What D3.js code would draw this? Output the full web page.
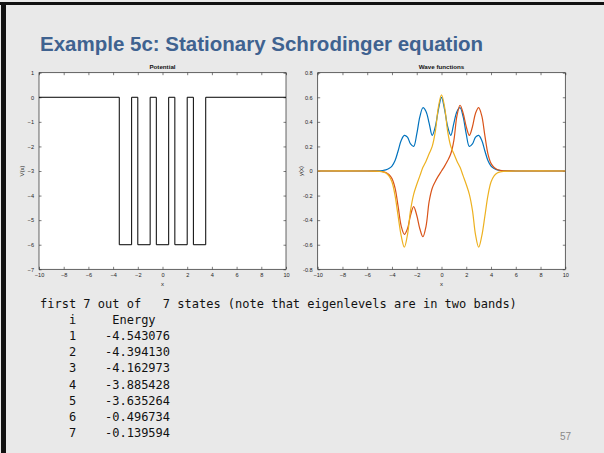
<!DOCTYPE html>
<html><head><meta charset="utf-8">
<script src="https://cdn.jsdelivr.net/npm/d3@7"></script>
<style>
html,body{margin:0;padding:0;background:#e9e9e9;}
svg{display:block;}
</style></head>
<body>
<script>
// ---------- DATA ----------
const titleText = "Example 5c: Stationary Schrodinger equation";
const potTitle = "Potential";
const waveTitle = "Wave functions";

// Potential: step breakpoints (x) and level V(x) starting at each breakpoint
const potX = [-10, -3.5, -2.5, -2, -1, -0.5, 0.5, 1, 2, 2.5, 3.5, 10];
const potV = [0, -6, 0, -6, 0, -6, 0, -6, 0, -6, 0, 0];

const xTicks = [-10, -8, -6, -4, -2, 0, 2, 4, 6, 8, 10];
const potYTicks = [-7, -6, -5, -4, -3, -2, -1, 0, 1];
const waveYTicks = [-0.8, -0.6, -0.4, -0.2, 0, 0.2, 0.4, 0.6, 0.8];

// Wave functions sampled along x
const waveX = [-10, -6, -5.5, -5, -4.75, -4.5, -4.25, -4, -3.75, -3.5, -3.25, -3, -2.75, -2.5, -2.25, -2, -1.75, -1.5, -1.25, -1, -0.75, -0.5, -0.25,
  0, 0.25, 0.5, 0.75, 1, 1.25, 1.5, 1.75, 2, 2.25, 2.5, 2.75, 3, 3.25, 3.5, 3.75, 4, 4.25, 4.5, 4.75, 5, 5.5, 6, 10];
const psi1 = [0, 0, 0.0005, 0.002, 0.004, 0.009, 0.02, 0.04, 0.085, 0.165, 0.25, 0.29, 0.275, 0.22, 0.2, 0.3, 0.44, 0.515, 0.485, 0.39, 0.29, 0.36, 0.5,
  0.6, 0.5, 0.36, 0.29, 0.39, 0.485, 0.515, 0.44, 0.3, 0.2, 0.22, 0.275, 0.29, 0.25, 0.165, 0.085, 0.04, 0.02, 0.009, 0.004, 0.002, 0.0005, 0, 0];
const psi2 = [0, 0, -0.0005, -0.002, -0.005, -0.012, -0.028, -0.062, -0.14, -0.29, -0.45, -0.515, -0.47, -0.36, -0.29, -0.36, -0.47, -0.535, -0.45, -0.25, -0.14, -0.085, -0.04,
  0, 0.04, 0.085, 0.14, 0.25, 0.45, 0.535, 0.47, 0.36, 0.29, 0.36, 0.47, 0.515, 0.45, 0.29, 0.14, 0.062, 0.028, 0.012, 0.005, 0.002, 0.0005, 0, 0];
const psi3 = [0, 0, -0.001, -0.003, -0.007, -0.017, -0.04, -0.09, -0.2, -0.37, -0.53, -0.62, -0.52, -0.32, -0.19, -0.11, -0.04, 0.03, 0.08, 0.14, 0.2, 0.32, 0.52,
  0.62, 0.52, 0.32, 0.2, 0.14, 0.08, 0.03, -0.04, -0.11, -0.19, -0.32, -0.52, -0.62, -0.53, -0.37, -0.2, -0.09, -0.04, -0.017, -0.007, -0.003, -0.001, 0, 0];
const waveColors = ["#0072BD", "#D95319", "#EDB120"];

// Console output
const headerLine = "first 7 out of   7 states (note that eigenlevels are in two bands)";
const stateIdx = [1, 2, 3, 4, 5, 6, 7];
const energies = ["-4.543076", "-4.394130", "-4.162973", "-3.885428", "-3.635264", "-0.496734", "-0.139594"];
const slideNo = "57";

// ---------- DRAW ----------
const W = 604, H = 453;
const svg = d3.select("body").append("svg").attr("width", W).attr("height", H);
svg.append("rect").attr("width", W).attr("height", H).attr("fill", "#e9e9e9");
// slide frame
svg.append("rect").attr("x", 0).attr("y", 2).attr("width", W).attr("height", 3).attr("fill", "#111");
svg.append("rect").attr("x", 1).attr("y", 2).attr("width", 5).attr("height", H).attr("fill", "#111");

svg.append("text").attr("x", 40).attr("y", 50.5)
  .attr("font-family", "Liberation Sans, Arial, sans-serif").attr("font-size", 20.5)
  .attr("font-weight", "bold").attr("fill", "#3f6290").text(titleText);

const axisColor = "#262626";
const tickFont = "Liberation Sans, Arial, sans-serif";

function drawPanel(box, xDomain, yDomain, yTicks, yFmt, title, ylab) {
  const x = d3.scaleLinear().domain(xDomain).range([box.x0, box.x1]);
  const y = d3.scaleLinear().domain(yDomain).range([box.y1, box.y0]);
  const g = svg.append("g");
  g.append("rect").attr("x", box.x0).attr("y", box.y0).attr("width", box.x1 - box.x0).attr("height", box.y1 - box.y0).attr("fill", "#fff");
  const tl = 2.5;
  const bottom = g.append("g").attr("transform", `translate(0,${box.y1})`)
    .call(d3.axisBottom(x).tickValues(xTicks).tickSizeInner(-tl).tickSizeOuter(0).tickPadding(4).tickFormat(d3.format("d")));
  const top = g.append("g").attr("transform", `translate(0,${box.y0})`)
    .call(d3.axisTop(x).tickValues(xTicks).tickSizeInner(-tl).tickSizeOuter(0).tickFormat(""));
  const left = g.append("g").attr("transform", `translate(${box.x0},0)`)
    .call(d3.axisLeft(y).tickValues(yTicks).tickSizeInner(-tl).tickSizeOuter(0).tickPadding(5).tickFormat(yFmt));
  const right = g.append("g").attr("transform", `translate(${box.x1},0)`)
    .call(d3.axisRight(y).tickValues(yTicks).tickSizeInner(-tl).tickSizeOuter(0).tickFormat(""));
  [bottom, top, left, right].forEach(a => {
    a.select(".domain").remove();
    a.selectAll("line").attr("stroke", axisColor).attr("stroke-width", 0.6);
    a.selectAll("text").attr("font-family", tickFont).attr("font-size", 5.6).attr("fill", axisColor);
  });
  g.append("rect").attr("x", box.x0).attr("y", box.y0).attr("width", box.x1 - box.x0).attr("height", box.y1 - box.y0)
    .attr("fill", "none").attr("stroke", axisColor).attr("stroke-width", 0.7);
  g.append("text").attr("x", (box.x0 + box.x1) / 2).attr("y", box.y0 - 3.5).attr("text-anchor", "middle")
    .attr("font-family", tickFont).attr("font-size", 6.2).attr("font-weight", "bold").attr("fill", "#111").text(title);
  g.append("text").attr("x", (box.x0 + box.x1) / 2).attr("y", box.y1 + 17).attr("text-anchor", "middle")
    .attr("font-family", tickFont).attr("font-size", 6).attr("fill", axisColor).text("x");
  g.append("text").attr("transform", `translate(${box.x0 - 15},${(box.y0 + box.y1) / 2}) rotate(-90)`)
    .attr("text-anchor", "middle").attr("font-family", tickFont).attr("font-size", 6).attr("fill", axisColor).text(ylab);
  return {x, y, g};
}

const pL = drawPanel({x0: 39, x1: 286, y0: 72.7, y1: 269.3}, [-10, 10], [-7, 1], potYTicks, d3.format("d"), potTitle, "V(x)");
const potData = potX.map((v, i) => [v, potV[i]]);
pL.g.append("path").datum(potData)
  .attr("d", d3.line().x(d => pL.x(d[0])).y(d => pL.y(d[1])).curve(d3.curveStepAfter))
  .attr("fill", "none").attr("stroke", "#000").attr("stroke-width", 1);

const fmtW = d => (d === 0 ? "0" : d3.format(".1f")(d).replace("−", "-"));
const pR = drawPanel({x0: 317.7, x1: 565.3, y0: 72.7, y1: 269.3}, [-10, 10], [-0.8, 0.8], waveYTicks, fmtW, waveTitle, "y(x)");
[psi1, psi2, psi3].forEach((ser, k) => {
  const data = waveX.map((v, i) => [v, ser[i]]);
  pR.g.append("path").datum(data)
    .attr("d", d3.line().x(d => pR.x(d[0])).y(d => pR.y(d[1])).curve(d3.curveCatmullRom.alpha(0.5)))
    .attr("fill", "none").attr("stroke", waveColors[k]).attr("stroke-width", 1.2);
});

// console text
const mono = "DejaVu Sans Mono, monospace";
const lineH = 16.1, y0 = 308;
const tx = svg.append("g").attr("font-family", mono).attr("font-size", 12).attr("fill", "#111");
tx.append("text").attr("x", 40).attr("y", y0).style("white-space", "pre").text(headerLine);
tx.append("text").attr("x", 40).attr("y", y0 + lineH).style("white-space", "pre").text("    i     Energy");
stateIdx.forEach((s, i) => {
  tx.append("text").attr("x", 40).attr("y", y0 + lineH * (i + 2)).style("white-space", "pre")
    .text("    " + s + "    " + energies[i]);
});
svg.append("text").attr("x", 560).attr("y", 440).attr("font-family", "Liberation Sans, Arial, sans-serif")
  .attr("font-size", 10).attr("fill", "#8a8a8a").text(slideNo);
</script>
</body></html>
